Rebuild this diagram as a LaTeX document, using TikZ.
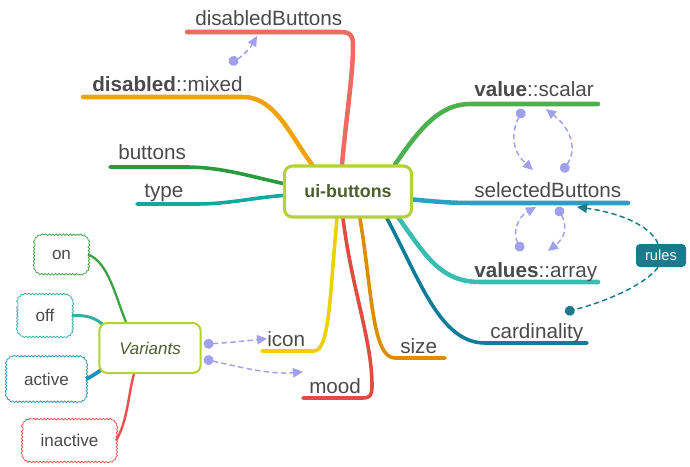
\documentclass[tikz,border=0pt]{standalone}
\usepackage{fontspec}
\setmainfont{Liberation Sans}
\usetikzlibrary{calc,arrows.meta,decorations.pathmorphing,backgrounds}
\definecolor{txt}{HTML}{4A4A4A}
\definecolor{hubB}{HTML}{B3D335}
\definecolor{hubT}{HTML}{4B5E2E}
\definecolor{cRed}{HTML}{EF6A60}
\definecolor{cOrange}{HTML}{F0A30A}
\definecolor{cGreen}{HTML}{2C9A3C}
\definecolor{cTeal}{HTML}{14A89C}
\definecolor{cLGreen}{HTML}{4CB04C}
\definecolor{cBlue}{HTML}{2CA0C4}
\definecolor{cLTeal}{HTML}{3ABCB0}
\definecolor{cDTeal}{HTML}{0F7C98}
\definecolor{cDOrange}{HTML}{DC8E00}
\definecolor{cMood}{HTML}{E04C40}
\definecolor{cYellow}{HTML}{ECD000}
\definecolor{lav}{HTML}{A0A0EE}
\definecolor{rulesC}{HTML}{1D7A8C}
\definecolor{onC}{HTML}{3AA040}
\definecolor{offC}{HTML}{30B0A0}
\definecolor{actC}{HTML}{2090B8}
\definecolor{inaC}{HTML}{E85050}
\newcommand\cloudrim[2]{%
  \draw[cloudline, draw=#2] ($(#1.north west)+(0,8)$) arc[start angle=180,end angle=90,radius=6pt]
    -- ($(#1.north east)+(-8,0)$) arc[start angle=90,end angle=0,radius=6pt]
    -- ($(#1.south east)+(0,-8)$) arc[start angle=0,end angle=-90,radius=6pt]
    -- ($(#1.south west)+(8,0)$) arc[start angle=270,end angle=180,radius=6pt] -- cycle;}
\begin{document}
\begin{tikzpicture}[x=0.75pt,y=-0.75pt,
  lbl/.style={anchor=base west, inner sep=0pt, text=txt, font=\fontsize{15.5}{18}\selectfont},
  br/.style={line width=3.4pt, line cap=round, line join=round},
  thinbr/.style={line width=2.7pt, line cap=round, line join=round},
  cloudbox/.style={text=txt, font=\fontsize{12.8}{15}\selectfont, inner sep=0pt},
  cloudline/.style={line width=0.55pt, decorate, decoration={bumps, amplitude=1.2pt, segment length=5.2pt}},
  rel/.style={draw=lav, line width=1.1pt, dash pattern=on 4pt off 2.5pt, {Circle[length=7.5pt]}-{Triangle[length=7.5pt,width=7pt]}},
  rulerel/.style={draw=rulesC, line width=1.1pt, dash pattern=on 4pt off 2.5pt},
]
\useasboundingbox (0,0) rectangle (690,467);
% hub
\node[draw=hubB, line width=2.3pt, fill=white, rounded corners=6pt, minimum width=95.25pt, minimum height=38.25pt, text=hubT, font=\fontsize{13.4}{16}\bfseries] (c) at (348,191.5) {ui-buttons};
% variants
\node[draw=hubB, line width=1.5pt, fill=white, rounded corners=6pt, minimum width=76pt, minimum height=37.5pt, text=hubT, font=\fontsize{12.7}{15}\itshape] (var) at (150,348) {Variants};
% rules
\node[fill=rulesC, rounded corners=3pt, minimum width=37.5pt, minimum height=17.25pt, text=white, font=\fontsize{11}{13}\selectfont, inner sep=0pt] (r) at (661,255.5) {rules};
% clouds
\node[cloudbox, minimum width=39.5pt, minimum height=28pt] (on) at (61.5,254.5) {on};
\node[cloudbox, minimum width=40pt, minimum height=30.5pt] (off) at (45,315.5) {off};
\node[cloudbox, minimum width=59pt, minimum height=32.5pt] (act) at (46.5,379) {active};
\node[cloudbox, minimum width=69.5pt, minimum height=30.5pt] (ina) at (69.5,440.5) {inactive};
\cloudrim{on}{onC}
\cloudrim{off}{offC}
\cloudrim{act}{actC}
\cloudrim{ina}{inaC}
% labels
\node[lbl] (lDisB) at (195,26) {disabledButtons};
\node[lbl] (lDisM) at (92,92) {\textbf{disabled}::mixed};
\node[lbl] (lBut) at (118,160) {buttons};
\node[lbl] (lType) at (144,198) {type};
\node[lbl] (lVal) at (474,97) {\textbf{value}::scalar};
\node[lbl] (lSel) at (474,197) {selectedButtons};
\node[lbl] (lVals) at (474,277) {\textbf{values}::array};
\node[lbl] (lCard) at (490,338) {cardinality};
\node[lbl] (lSize) at (400,353) {size};
\node[lbl] (lMood) at (309,393) {mood};
\node[lbl] (lIcon) at (267,346) {icon};
% line ends
\coordinate (eDisB) at (187,32);
\coordinate (eDisM) at (83,97);
\coordinate (eBut) at (110,167);
\coordinate (eType) at (137,204);
\coordinate (eVal) at (598,104);
\coordinate (eSel) at (628,203);
\coordinate (eVals) at (598,282);
\coordinate (eCard) at (587,343);
\coordinate (eSize) at (445,358);
\coordinate (eMood) at (303,398);
\coordinate (eIcon) at (262,351);
\begin{scope}[on background layer]
\draw[br, cRed] ($(c.north)+(-6,0)$) .. controls (347,110) and (353,75) .. (353,45) .. controls (353,35) and (350,32) .. (340,32) -- (eDisB);
\draw[br, cOrange] ($(c.north)+(-36,0)$) .. controls (290,135) and (275,97) .. (243,97) -- (eDisM);
\draw[thinbr, cGreen] ($(c.west)+(0,-8)$) .. controls (245,175) and (220,167) .. (185,167) -- (eBut);
\draw[thinbr, cTeal] ($(c.west)+(0,4)$) .. controls (250,198) and (230,204) .. (195,204) -- (eType);
\draw[br, cLGreen] ($(c.north east)+(-18,0)$) .. controls (420,128) and (440,104) .. (470,104) -- (eVal);
\draw[br, cBlue] ($(c.east)+(0,8)$) .. controls (440,202) and (450,203) .. (475,203) -- (eSel);
\draw[br, cLTeal] ($(c.south east)+(-16,-3)$) .. controls (425,255) and (440,282) .. (480,282) -- (eVals);
\draw[thinbr, cDTeal] ($(c.south east)+(-26,0)$) .. controls (420,280) and (440,343) .. (485,343) -- (eCard);
\draw[thinbr, cDOrange] ($(c.south)+(12,0)$) .. controls (372,290) and (372,358) .. (395,358) -- (eSize);
\draw[thinbr, cMood] ($(c.south)+(-5,0)$) .. controls (352,290) and (372,340) .. (372,386) .. controls (372,396) and (370,398) .. (362,398) -- (eMood);
\draw[thinbr, cYellow] ($(c.south)+(-11,0)$) .. controls (330,290) and (330,351) .. (314,351) -- (eIcon);
% cloud connectors
\draw[line width=1.7pt, onC] (on.east) .. controls (108,262) and (115,295) .. ($(var.north)+(-24,0)$);
\draw[line width=2.2pt, offC] (off.east) .. controls (88,315) and (96,318) .. ($(var.north west)+(6,4)$);
\draw[line width=2.8pt, actC] (act.east) .. controls (93,376) and (98,372) .. ($(var.west)+(4,21)$);
\draw[line width=1.8pt, inaC] (ina.east) .. controls (128,420) and (128,395) .. ($(var.south)+(-16,0)$);
\end{scope}
% relationship arrows
\coordinate (d1) at (229,63);
\coordinate (t1) at (257,36);
\draw[rel] (d1) .. controls (240,58) and (249,50) .. (t1);
\draw[rel] ($(var.east)+(2,-4)$) .. controls (225,343) and (245,341) .. (lIcon.west);
\draw[rel] ($(var.east)+(2,11)$) .. controls (235,366) and (270,375) .. ($(lMood.north west)+(-6,-6)$);
\coordinate (d4) at (523,109);
\coordinate (t4) at (533,170);
\draw[rel] (d4) .. controls (510,135) and (513,152) .. (t4);
\coordinate (d5) at (562,172);
\coordinate (t5) at (546,109);
\draw[rel] (d5) .. controls (578,148) and (570,128) .. (t5);
\coordinate (d6) at (522,251);
\coordinate (t6) at (536,207);
\draw[rel] (d6) .. controls (512,232) and (518,217) .. (t6);
\coordinate (d7) at (557,207);
\coordinate (t7) at (548,251);
\draw[rel] (d7) .. controls (567,225) and (566,237) .. (t7);
% rules connectors
\coordinate (t8) at (577,207);
\coordinate (d9) at (565,312);
\draw[rulerel, -{Triangle[length=7.5pt,width=7pt]}] ($(r.north)+(-3,0)$) .. controls (650,224) and (615,212) .. (t8);
\draw[rulerel, -{Circle[length=7.5pt]}] ($(r.south)+(-3,0)$) .. controls (645,285) and (605,302) .. (d9);
\end{tikzpicture}
\end{document}
